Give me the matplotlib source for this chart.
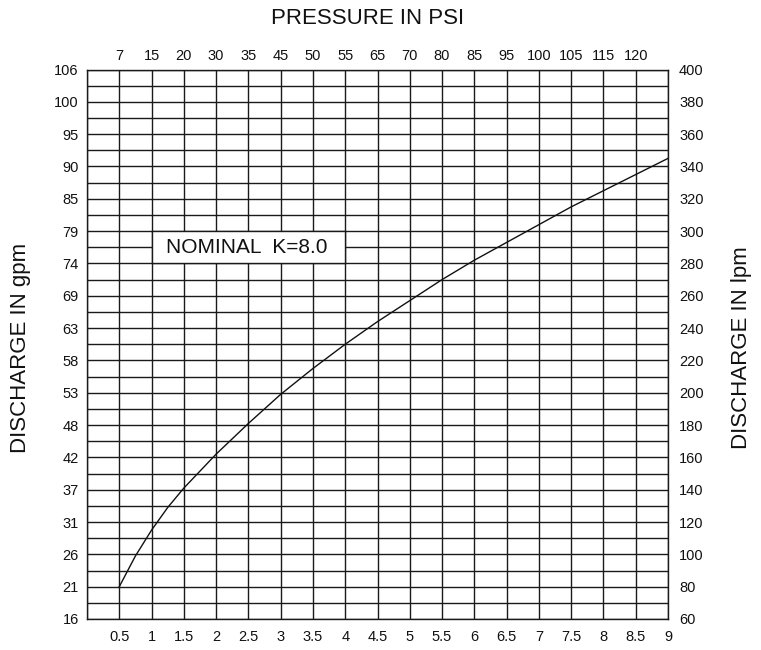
import matplotlib
matplotlib.use("Agg")
import matplotlib.pyplot as plt
import numpy as np

plt.rcParams['font.family'] = ['Liberation Sans', 'DejaVu Sans']

# Data
pressure_bar = [0.5, 0.75, 1, 1.25, 1.5, 2, 2.5, 3, 3.5, 4, 4.5, 5, 5.5, 6, 6.5, 7, 7.5, 8, 8.5, 9]
discharge_lpm = [80, 99, 115, 129, 141, 162, 181, 199, 215, 230, 244, 257, 270, 282, 293, 304, 315, 325, 335, 345]

bar_ticks = [0.5, 1, 1.5, 2, 2.5, 3, 3.5, 4, 4.5, 5, 5.5, 6, 6.5, 7, 7.5, 8, 8.5, 9]
bar_labels = ['0.5', '1', '1.5', '2', '2.5', '3', '3.5', '4', '4.5', '5', '5.5', '6', '6.5', '7', '7.5', '8', '8.5', '9']
psi_labels = ['7', '15', '20', '30', '35', '45', '50', '55', '65', '70', '80', '85', '95', '100', '105', '115', '120', '']

lpm_ticks = [60, 80, 100, 120, 140, 160, 180, 200, 220, 240, 260, 280, 300, 320, 340, 360, 380, 400]
lpm_labels = [str(v) for v in lpm_ticks]
gpm_labels = ['16', '21', '26', '31', '37', '42', '48', '53', '58', '63', '69', '74', '79', '85', '90', '95', '100', '106']

annotation_text = 'NOMINAL  K=8.0'

fig = plt.figure(figsize=(7.61, 6.5), dpi=100)
ax = fig.add_axes([87/761, 1 - 619/650, (668-87)/761, (619-69.5)/650])

ax.set_xlim(0, 9)
ax.set_ylim(60, 400)

gridc = '#1a1a1a'
glw = 1.0
for x in np.arange(0, 9.01, 0.5):
    ax.axvline(x, color=gridc, lw=glw, zorder=1)
for y in np.arange(60, 400.1, 10):
    ax.axhline(y, color=gridc, lw=glw, zorder=1)

# annotation box covering grid
ax.fill_between([1, 4], 280, 300, color='white', zorder=2, lw=0)
ax.plot([1, 1], [280, 300], color=gridc, lw=glw, zorder=3)
ax.plot([4, 4], [280, 300], color=gridc, lw=glw, zorder=3)
ax.plot([1, 4], [280, 280], color=gridc, lw=glw, zorder=3)
ax.plot([1, 4], [300, 300], color=gridc, lw=glw, zorder=3)
ax.text(2.47, 290, annotation_text, ha='center', va='center', fontsize=15, zorder=4, color='#111')

ax.plot(pressure_bar, discharge_lpm, color='#111', lw=1.0, zorder=5)

for s in ax.spines.values():
    s.set_color(gridc)
    s.set_linewidth(glw)

ax.set_xticks(bar_ticks)
ax.set_xticklabels(bar_labels)
ax.set_yticks(lpm_ticks)
ax.set_yticklabels(gpm_labels)
ax.tick_params(axis='both', length=0, labelsize=10.5, colors='#111')
ax.tick_params(axis='x', pad=8)
ax.tick_params(axis='y', pad=6)

axr = ax.twinx()
axr.set_ylim(60, 400)
axr.set_yticks(lpm_ticks)
axr.set_yticklabels(lpm_labels)
axr.tick_params(axis='y', length=0, labelsize=10.5, pad=8, colors='#111')
for s in axr.spines.values():
    s.set_visible(False)

axt = ax.twiny()
axt.set_xlim(0, 9)
axt.set_xticks(bar_ticks)
axt.set_xticklabels(psi_labels)
axt.tick_params(axis='x', length=0, labelsize=10.5, pad=5, colors='#111')
for s in axt.spines.values():
    s.set_visible(False)

fig.text(368/761, 1 - 18/650, 'PRESSURE IN PSI', ha='center', va='center', fontsize=16, color='#111')
fig.text(21/761, 1 - 348/650, 'DISCHARGE IN gpm', ha='center', va='center', rotation=90, fontsize=16, color='#111')
fig.text(741/761, 1 - 348/650, 'DISCHARGE IN lpm', ha='center', va='center', rotation=90, fontsize=16, color='#111')

fig.savefig('out.png', dpi=100)
